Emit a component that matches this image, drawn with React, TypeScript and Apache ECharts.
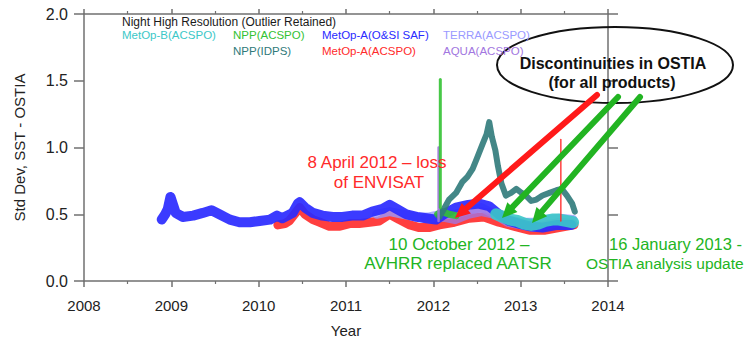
import React, { useEffect, useRef } from "react";
import * as echarts from "echarts";

// ---- tick labels ----
const xTickLabels = ["2008", "2009", "2010", "2011", "2012", "2013", "2014"];
const yTickLabels = ["0.0", "0.5", "1.0", "1.5", "2.0"];

// ---- series (decimal year, std dev) ----
const metopAOsiSaf: [number, number][] = [
  [2008.89, 0.46], [2008.93, 0.5], [2008.96, 0.54], [2008.99, 0.63], [2009.02, 0.57],
  [2009.05, 0.51], [2009.13, 0.48], [2009.25, 0.49], [2009.36, 0.51], [2009.46, 0.53],
  [2009.55, 0.5], [2009.67, 0.46], [2009.78, 0.44], [2009.9, 0.44], [2010.01, 0.45],
  [2010.13, 0.46], [2010.21, 0.49], [2010.27, 0.47], [2010.39, 0.51], [2010.45, 0.58],
  [2010.47, 0.59], [2010.53, 0.55], [2010.62, 0.51], [2010.73, 0.49], [2010.85, 0.48],
  [2010.96, 0.48], [2011.07, 0.49], [2011.19, 0.49], [2011.3, 0.52], [2011.42, 0.54],
  [2011.5, 0.57], [2011.58, 0.54], [2011.69, 0.5], [2011.81, 0.48], [2011.92, 0.47],
  [2012.03, 0.46], [2012.12, 0.5], [2012.26, 0.55], [2012.4, 0.57], [2012.52, 0.58],
  [2012.64, 0.56], [2012.75, 0.5], [2012.87, 0.45], [2012.98, 0.43], [2013.1, 0.41],
  [2013.25, 0.4], [2013.42, 0.42], [2013.58, 0.42],
];

const metopAAcspo: [number, number][] = [
  [2010.22, 0.42], [2010.3, 0.43], [2010.35, 0.45], [2010.47, 0.55], [2010.53, 0.5],
  [2010.62, 0.46], [2010.7, 0.44], [2010.81, 0.41], [2010.93, 0.41], [2011.04, 0.43],
  [2011.15, 0.43], [2011.27, 0.44], [2011.38, 0.45], [2011.5, 0.5], [2011.61, 0.46],
  [2011.73, 0.42], [2011.84, 0.4], [2011.95, 0.4], [2012.07, 0.42], [2012.24, 0.44],
  [2012.41, 0.47], [2012.58, 0.48], [2012.75, 0.44], [2012.93, 0.41], [2013.1, 0.38],
  [2013.27, 0.38], [2013.44, 0.4], [2013.61, 0.42],
];
const metopAAcspoSpike: [number, number][] = [[2013.46, 0.45], [2013.46, 1.06]];

const terraAcspo: [number, number][] = [
  [2011.35, 0.5], [2011.5, 0.52], [2011.65, 0.5], [2011.8, 0.48], [2011.95, 0.48],
  [2012.1, 0.5], [2012.25, 0.5], [2012.4, 0.53], [2012.55, 0.55], [2012.7, 0.5],
  [2012.85, 0.46], [2013.0, 0.44], [2013.15, 0.44], [2013.3, 0.46], [2013.45, 0.47],
  [2013.6, 0.46],
];

const aquaAcspo: [number, number][] = [
  [2011.9, 0.47], [2012.0, 0.46], [2012.1, 0.48], [2012.25, 0.46], [2012.4, 0.5],
  [2012.55, 0.52], [2012.7, 0.5], [2012.85, 0.44], [2013.0, 0.42], [2013.15, 0.4],
  [2013.3, 0.42], [2013.45, 0.44], [2013.6, 0.43],
];
const aquaAcspoSpike: [number, number][] = [[2012.06, 0.45], [2012.06, 1.0]];

const nppAcspo: [number, number][] = [
  [2012.05, 0.5], [2012.1, 0.52], [2012.18, 0.5], [2012.26, 0.49],
];
const nppAcspoSpike: [number, number][] = [[2012.08, 0.55], [2012.08, 1.51]];

const metopBAcspo: [number, number][] = [
  [2012.72, 0.5], [2012.8, 0.48], [2012.88, 0.46], [2012.96, 0.45], [2013.04, 0.43],
  [2013.12, 0.42], [2013.2, 0.43], [2013.28, 0.45], [2013.36, 0.46], [2013.44, 0.46],
  [2013.52, 0.45], [2013.6, 0.44],
];

const nppIdps: [number, number][] = [
  [2012.07, 0.48], [2012.13, 0.55], [2012.18, 0.61], [2012.26, 0.66], [2012.33, 0.74],
  [2012.39, 0.78], [2012.45, 0.84], [2012.5, 0.92], [2012.56, 1.02], [2012.61, 1.1],
  [2012.64, 1.19], [2012.67, 1.08], [2012.71, 0.98], [2012.74, 0.86], [2012.78, 0.73],
  [2012.83, 0.64], [2012.89, 0.66], [2012.95, 0.69], [2013.01, 0.66], [2013.06, 0.64],
  [2013.12, 0.6], [2013.18, 0.61], [2013.25, 0.64], [2013.33, 0.66], [2013.41, 0.68],
  [2013.47, 0.69], [2013.53, 0.64], [2013.59, 0.58], [2013.62, 0.52],
];

// ---- legend entries ----
const legendTitle = "Night High Resolution (Outlier Retained)";
const legendNames = [
  "MetOp-B(ACSPO)", "NPP(ACSPO)", "NPP(IDPS)", "MetOp-A(O&SI SAF)",
  "MetOp-A(ACSPO)", "TERRA(ACSPO)", "AQUA(ACSPO)",
];
const legendColors = ["#3cc8c8", "#33c233", "#2f7a7a", "#2a2aff", "#ff2a2a", "#9a9aff", "#a276e0"];

const FONT = '"Liberation Sans", Arial, Helvetica, sans-serif';

function arrow(x1: number, y1: number, x2: number, y2: number, color: string) {
  const dx = x2 - x1, dy = y2 - y1;
  const L = Math.hypot(dx, dy);
  const ux = dx / L, uy = dy / L;
  const hl = 15, hw = 7;
  const bx = x2 - ux * hl, by = y2 - uy * hl;
  return [
    { type: "line", z: 100, shape: { x1, y1, x2: bx, y2: by }, style: { stroke: color, lineWidth: 6, lineCap: "round" } },
    {
      type: "polygon", z: 100,
      shape: { points: [[x2, y2], [bx - uy * hw, by + ux * hw], [bx + uy * hw, by - ux * hw]] },
      style: { fill: color },
    },
  ];
}

function txt(x: number, y: number, text: string, fill: string, size: number, align = "center", weight = "normal") {
  return {
    type: "text", x, y, z: 100,
    style: { text, fill, fontSize: size, fontFamily: FONT, fontWeight: weight, align, verticalAlign: "middle" },
  };
}

export default function App() {
  const ref = useRef<HTMLDivElement>(null);
  useEffect(() => {
    if (!ref.current) return;
    const chart = echarts.init(ref.current, undefined, { renderer: "svg" });
    const axisColor = "#707070";
    const line = (name: string, data: [number, number][], color: string, width: number, z: number, opacity = 0.9) => ({
      name, type: "line", data, showSymbol: false, symbol: "none", z,
      lineStyle: { color, width, opacity, cap: "round", join: "round" },
      itemStyle: { color },
    });
    const red = legendColors[4], green = "#22b422";
    const legendPos: [number, number][] = [
      [122, 35], [233, 35], [233, 51], [322, 35], [322, 51], [443, 35], [443, 51],
    ];
    const graphics: any[] = [
      txt(122, 22, legendTitle, "#1a1a1a", 12, "left"),
      ...legendNames.map((n, i) => txt(legendPos[i][0], legendPos[i][1], n, legendColors[i], 11.5, "left")),
      txt(377, 162, "8 April 2012 \u2013 loss", red, 17),
      txt(379, 182, "of ENVISAT", red, 17),
      txt(459, 244, "10 October 2012 \u2013", green, 17),
      txt(458, 263, "AVHRR replaced AATSR", green, 17),
      txt(609, 244, "16 January 2013 -", green, 16.5, "left"),
      txt(586, 263, "OSTIA analysis update", green, 15.5, "left"),
      {
        type: "ellipse", z: 99, shape: { cx: 615, cy: 65, rx: 118, ry: 38 },
        style: { fill: "none", stroke: "#111", lineWidth: 2 },
      },
      txt(613, 63, "Discontinuities in OSTIA", "#111", 16, "center", "bold"),
      txt(612, 82, "(for all products)", "#111", 16, "center", "bold"),
      ...arrow(597, 95, 455, 218, "#ff1a1a"),
      ...arrow(618, 97, 502, 218, green),
      ...arrow(640, 97, 532, 223, green),
    ];
    chart.setOption({
      animation: false,
      backgroundColor: "#ffffff",
      grid: { left: 84, top: 14, width: 524, height: 268, containLabel: false },
      xAxis: [
        {
          type: "value", min: 2008, max: 2014, interval: 1, position: "bottom",
          name: "Year", nameLocation: "middle", nameGap: 42,
          nameTextStyle: { color: "#222", fontSize: 15, fontFamily: FONT },
          axisLine: { show: true, onZero: false, lineStyle: { color: axisColor, width: 1.5 } },
          axisTick: { show: true, inside: false, length: 6, lineStyle: { color: axisColor, width: 1.5 } },
          minorTick: { show: true, splitNumber: 2, length: 3, lineStyle: { color: axisColor, width: 1.2 } },
          splitLine: { show: false },
          axisLabel: {
            color: "#222", fontSize: 15, fontFamily: FONT, margin: 17,
            formatter: (v: number) => xTickLabels[Math.round(v - 2008)] ?? "",
          },
        },
        {
          type: "value", min: 2008, max: 2014, interval: 1, position: "top",
          axisLine: { show: true, onZero: false, lineStyle: { color: axisColor, width: 1.5 } },
          axisTick: { show: true, inside: false, length: 5, lineStyle: { color: axisColor, width: 1.5 } },
          minorTick: { show: true, splitNumber: 2, length: 3, lineStyle: { color: axisColor, width: 1.2 } },
          splitLine: { show: false },
          axisLabel: { show: false },
        },
      ],
      yAxis: [
        {
          type: "value", min: 0, max: 2, interval: 0.5, position: "left",
          name: "Std Dev, SST - OSTIA", nameLocation: "middle", nameGap: 57, nameRotate: 90,
          nameTextStyle: { color: "#222", fontSize: 15, fontFamily: FONT },
          axisLine: { show: true, onZero: false, lineStyle: { color: axisColor, width: 1.5 } },
          axisTick: { show: true, inside: false, length: 10, lineStyle: { color: axisColor, width: 1.5 } },
          splitLine: { show: false },
          axisLabel: {
            color: "#222", fontSize: 16, fontFamily: FONT, margin: 16,
            formatter: (v: number) => yTickLabels[Math.round(v * 2)] ?? "",
          },
        },
        {
          type: "value", min: 0, max: 2, interval: 0.5, position: "right",
          axisLine: { show: true, onZero: false, lineStyle: { color: axisColor, width: 1.5 } },
          axisTick: { show: true, inside: false, length: 10, lineStyle: { color: axisColor, width: 1.5 } },
          splitLine: { show: false },
          axisLabel: { show: false },
        },
      ],
      series: [
        line("MetOp-A(ACSPO)", metopAAcspo, legendColors[4], 9, 2),
        line("TERRA(ACSPO)", terraAcspo, legendColors[5], 9, 3, 0.8),
        line("AQUA(ACSPO)", aquaAcspo, legendColors[6], 9, 3, 0.8),
        line("MetOp-A(O&SI SAF)", metopAOsiSaf, legendColors[3], 10, 4, 0.92),
        line("NPP(ACSPO)", nppAcspo, legendColors[1], 7, 4),
        line("MetOp-B(ACSPO)", metopBAcspo, legendColors[0], 12, 5, 0.9),
        line("NPP(IDPS)", nppIdps, legendColors[2], 6, 6, 0.9),
        line("MetOp-A(ACSPO) spike", metopAAcspoSpike, legendColors[4], 1.5, 7),
        line("AQUA(ACSPO) spike", aquaAcspoSpike, legendColors[6], 2.5, 7),
        line("NPP(ACSPO) spike", nppAcspoSpike, legendColors[1], 3, 7),
      ],
      graphic: { elements: graphics },
    });
    return () => chart.dispose();
  }, []);
  return <div ref={ref} style={{ position: "absolute", left: 0, top: 0, width: 750, height: 343 }} />;
}
